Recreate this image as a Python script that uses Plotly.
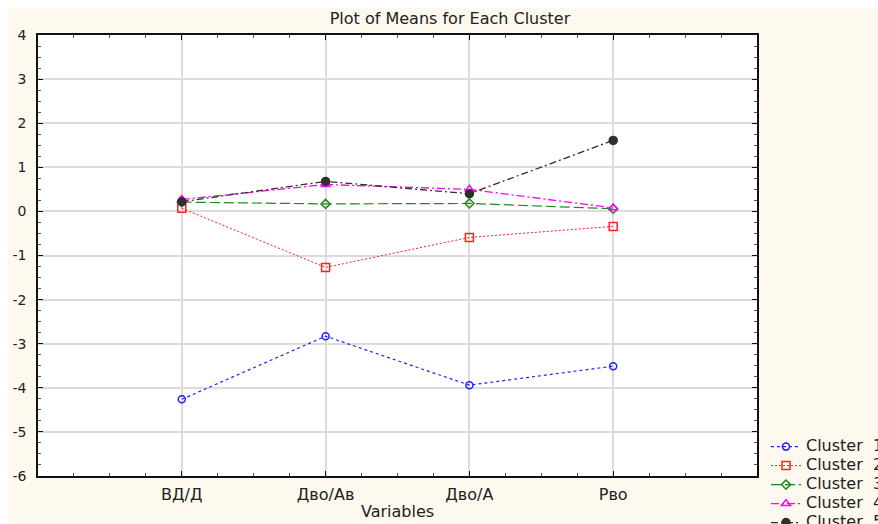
import plotly.graph_objects as go

variables = ["ВД/Д", "Дво/Ав", "Дво/А", "Рво"]
x_pos = [1, 2, 3, 4]
cluster_labels = ["Cluster\u00a0\u00a01", "Cluster\u00a0\u00a02", "Cluster\u00a0\u00a03",
                  "Cluster\u00a0\u00a04", "Cluster\u00a0\u00a05"]
cluster1 = [-4.26, -2.83, -3.94, -3.51]
cluster2 = [0.07, -1.27, -0.59, -0.34]
cluster3 = [0.21, 0.17, 0.18, 0.06]
cluster4 = [0.27, 0.61, 0.50, 0.08]
cluster5 = [0.22, 0.68, 0.40, 1.61]
y_ticks = [4, 3, 2, 1, 0, -1, -2, -3, -4, -5, -6]

FONT = "DejaVu Sans, Liberation Sans, Arial, sans-serif"
CREAM = "#fdf9ee"
TXT = "#222222"

styles = [
    dict(color="#2020ff", dash="3px,3px", symbol="circle-open", msize=7, lw=1.2),
    dict(color="#ff2020", dash="2px,2px", symbol="square-open", msize=8, lw=1.0),
    dict(color="#1e8a1e", dash="10px,4px", symbol="diamond-open", msize=7, lw=1.2),
    dict(color="#ff00ff", dash="8px,3px,2px,3px", symbol="triangle-up-open", msize=8, lw=1.3),
    dict(color="#303030", dash="7px,3px,2px,3px", symbol="circle", msize=8, lw=1.3),
]
series = [cluster1, cluster2, cluster3, cluster4, cluster5]

fig = go.Figure()
for label, vals, st in zip(cluster_labels, series, styles):
    fig.add_trace(go.Scatter(
        x=x_pos, y=vals,
        name="<span style='font-size:16px'>" + label + "</span>",
        mode="lines+markers",
        line=dict(color=st["color"], width=st["lw"], dash=st["dash"]),
        marker=dict(symbol=st["symbol"], size=st["msize"], color=st["color"],
                    line=dict(color=st["color"], width=1.5)),
    ))

axis_common = dict(
    showline=True, linecolor="#111", linewidth=1.5, mirror="allticks",
    ticks="inside", ticklen=5, tickcolor="#111", tickwidth=1,
    showgrid=True, gridcolor="#dcdcdc", gridwidth=1.5, zeroline=False,
)

fig.update_xaxes(
    range=[0, 5], tickmode="array", tickvals=x_pos, ticktext=variables,
    ticklabelstandoff=3, tickfont=dict(family=FONT, size=16, color=TXT),
    minor=dict(ticks="inside", ticklen=3, tickcolor="#555", dtick=0.25, tick0=0, showgrid=False),
    title=dict(text="Variables", font=dict(family=FONT, size=16, color=TXT), standoff=3),
    **axis_common,
)
fig.update_yaxes(
    range=[-6, 4], tickmode="array", tickvals=y_ticks, ticktext=[str(v) for v in y_ticks],
    ticklabelstandoff=7, tickfont=dict(family=FONT, size=14, color=TXT),
    minor=dict(ticks="inside", ticklen=3, tickcolor="#555", dtick=0.25, tick0=0, showgrid=False),
    **axis_common,
)

# plot area spans px 38..757 horizontally and 35..476 vertically
fig.update_layout(
    width=878, height=524,
    margin=dict(l=38, r=121, t=35, b=48, autoexpand=False),
    paper_bgcolor=CREAM, plot_bgcolor="white",
    title=dict(text="Plot of Means for Each Cluster", x=450 / 878, xref="container",
               xanchor="center", y=1 - 18 / 524, yanchor="middle",
               font=dict(family=FONT, size=16, color=TXT)),
    legend=dict(x=1.0125, xanchor="left", y=0.0995, yanchor="top",
                bgcolor="rgba(0,0,0,0)", font=dict(family=FONT, size=11.3, color=TXT),
                tracegroupgap=0, itemwidth=30),
    showlegend=True,
    shapes=[
        dict(type="rect", xref="paper", yref="paper", x0=-0.06, x1=1.2,
             y0=(476 - 8) / 441, y1=(476 + 1) / 441, fillcolor="white", line_width=0, layer="below"),
        dict(type="rect", xref="paper", yref="paper", x0=-39 / 719, x1=-30 / 719,
             y0=-0.2, y1=1.1, fillcolor="white", line_width=0, layer="below"),
    ],
)

fig.write_html(
    "out.html",
    config={"displayModeBar": False},
    post_script=("document.documentElement.style.overflow='hidden';"
                 "document.body.style.overflow='hidden';"
                 "document.body.style.margin='0';"),
)
